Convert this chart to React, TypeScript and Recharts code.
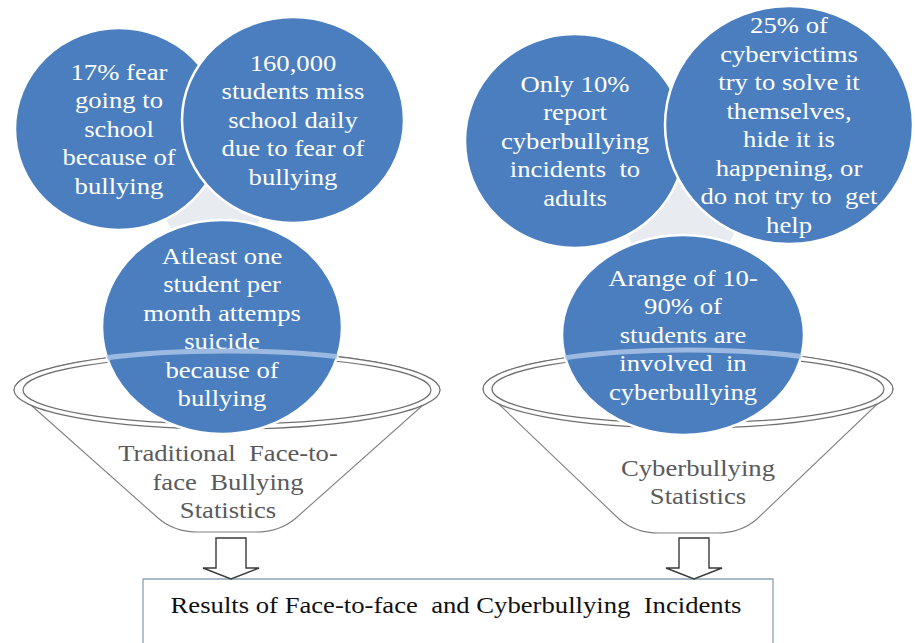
import { ComposedChart, ReferenceArea, Scatter, XAxis, YAxis } from "recharts";

const W = 915;
const H = 643;
const SERIF = "Times New Roman, Times, Liberation Serif, DejaVu Serif, serif";
const BLUE = "#4a7ebf";
const KX = W / 915;
const KY = H / 643;

// statements in the circles (diagram units, origin top-left)
const bubbleText = [
  ["17% fear", "going to", "school", "because of", "bullying"],
  ["160,000", "students miss", "school daily", "due to fear of", "bullying"],
  ["Atleast one", "student per", "month attemps", "suicide", "because of", "bullying"],
  ["Only 10%", "report", "cyberbullying", "incidents  to", "adults"],
  ["25% of", "cybervictims", "try to solve it", "themselves,", "hide it is", "happening, or", "do not try to  get", "help"],
  ["Arange of 10-", "90% of", "students are", "involved  in", "cyberbullying"],
];
const bubbleX = [119, 293, 222, 575, 789, 683];
const bubbleY = [129, 120, 327, 141, 125, 335];
const bubbleRx = [104, 111, 120, 110, 124, 121];
const bubbleRy = [101, 103, 107, 107, 119, 100];
const bubbleGroups = [
  [0, 1, 2],
  [3, 4, 5],
];

// funnels
const funnelLabel = [
  ["Traditional  Face-to-", "face  Bullying", "Statistics"],
  ["Cyberbullying", "Statistics"],
];
const funnelX = [227, 688];
const funnelY = [390, 389];
const funnelRx = [213, 205];
const funnelRy = [39, 39];
const funnelBottom = [532, 533];
const funnelBottomHalf = [55, 55];
const funnelLabelX = [228, 698];
const funnelLabelY = [482, 482];
const funnelBubble = [2, 5];

// arrows down to the result box
const arrowX = [231, 694];
const arrowTop = [538, 538];
const arrowTip = [579, 579];

const resultText = "Results of Face-to-face  and Cyberbullying  Incidents";
const resultBox = { x1: 143, x2: 773, y1: 579, y2: 680 };
const resultTextX = [456];
const resultTextY = [605];

function Label({ x, y, text, fill, size = 23, sx = 1.16 }: any) {
  return (
    <text
      transform={`translate(${x} ${y}) scale(${sx} 1)`}
      textAnchor="middle"
      dominantBaseline="central"
      fill={fill}
      fontSize={size}
      fontFamily={SERIF}
      style={{ whiteSpace: "pre" }}
    >
      {text}
    </text>
  );
}

function Gap(props: any) {
  const g = bubbleGroups[props.payload.i];
  const pts = g.map((b) => `${bubbleX[b] * KX},${bubbleY[b] * KY}`).join(" ");
  return <polygon points={pts} fill="#e8ebf0" />;
}

function Bubble(props: any) {
  const { cx, cy, payload } = props;
  const i = payload.i;
  const lines = bubbleText[i];
  const lh = 28.5;
  const top = cy - ((lines.length - 1) * lh) / 2;
  return (
    <g>
      <ellipse
        cx={cx}
        cy={cy}
        rx={bubbleRx[i] * KX}
        ry={bubbleRy[i] * KY}
        fill={BLUE}
        stroke="#fff"
        strokeWidth={2.5}
      />
      {lines.map((t, j) => (
        <Label key={j} x={cx} y={top + j * lh} text={t} fill="#fff" />
      ))}
    </g>
  );
}

function Funnel(props: any) {
  const { cx, cy, payload } = props;
  const i = payload.i;
  const rx = funnelRx[i] * KX;
  const ry = funnelRy[i] * KY;
  const by = funnelBottom[i] * KY;
  const bw = funnelBottomHalf[i] * KX;
  const body = [
    `M ${cx - rx} ${cy}`,
    `L ${cx - bw - 14} ${by - 14}`,
    `Q ${cx - bw + 2} ${by} ${cx - bw + 26} ${by}`,
    `L ${cx + bw - 26} ${by}`,
    `Q ${cx + bw - 2} ${by} ${cx + bw + 14} ${by - 14}`,
    `L ${cx + rx} ${cy}`,
    `A ${rx} ${ry} 0 0 0 ${cx - rx} ${cy} Z`,
  ].join(" ");
  const lines = funnelLabel[i];
  const lh = 28.5;
  const ly = funnelLabelY[i] * KY - ((lines.length - 1) * lh) / 2;
  return (
    <g>
      <path d={body} fill="#fff" stroke="#808080" strokeWidth={1.1} />
      <ellipse cx={cx} cy={cy} rx={rx} ry={ry} fill="#fff" stroke="#6f6f6f" strokeWidth={1.2} />
      <ellipse cx={cx} cy={cy} rx={rx - 9} ry={ry - 5} fill="none" stroke="#6f6f6f" strokeWidth={1.2} />
      {lines.map((t, j) => (
        <Label key={j} x={funnelLabelX[i] * KX} y={ly + j * lh} text={t} fill="#5a5a5a" />
      ))}
    </g>
  );
}

function Rim(props: any) {
  const { cx, cy, payload } = props;
  const i = payload.i;
  const b = funnelBubble[i];
  const rx = funnelRx[i] * KX;
  const ry = funnelRy[i] * KY;
  const id = `rimclip${i}`;
  return (
    <g>
      <defs>
        <clipPath id={id}>
          <ellipse cx={bubbleX[b] * KX} cy={bubbleY[b] * KY} rx={bubbleRx[b] * KX} ry={bubbleRy[b] * KY} />
        </clipPath>
      </defs>
      <path
        d={`M ${cx - rx} ${cy} A ${rx} ${ry} 0 0 1 ${cx + rx} ${cy}`}
        fill="none"
        stroke="#a9c3e6"
        strokeOpacity={0.85}
        strokeWidth={5}
        clipPath={`url(#${id})`}
      />
    </g>
  );
}

function Arrow(props: any) {
  const { cx, payload } = props;
  const i = payload.i;
  const top = arrowTop[i] * KY;
  const tip = arrowTip[i] * KY;
  const neck = tip - 11;
  const d = [
    `M ${cx - 15} ${top}`,
    `L ${cx + 15} ${top}`,
    `L ${cx + 15} ${neck}`,
    `L ${cx + 28} ${neck}`,
    `L ${cx} ${tip}`,
    `L ${cx - 28} ${neck}`,
    `L ${cx - 15} ${neck}`,
    "Z",
  ].join(" ");
  return <path d={d} fill="#fff" stroke="#3a3a3a" strokeWidth={1.4} />;
}

function ResultText(props: any) {
  return <Label x={props.cx} y={props.cy} text={resultText} fill="#111" />;
}

const gapData = bubbleGroups.map((g, i) => ({ x: bubbleX[g[0]], y: bubbleY[g[0]], i }));
const bubbleData = bubbleX.map((x, i) => ({ x, y: bubbleY[i], i }));
const funnelData = funnelX.map((x, i) => ({ x, y: funnelY[i], i }));
const arrowData = arrowX.map((x, i) => ({ x, y: arrowTop[i], i }));
const textData = resultTextX.map((x, i) => ({ x, y: resultTextY[i], i }));

export default function App() {
  return (
    <div style={{ position: "absolute", left: 0, top: 0, background: "#fff", fontFamily: SERIF }}>
      <ComposedChart width={W} height={H} margin={{ top: 0, right: 0, bottom: 0, left: 0 }}>
        <XAxis type="number" dataKey="x" domain={[0, 915]} hide allowDataOverflow />
        <YAxis type="number" dataKey="y" domain={[0, 643]} reversed hide allowDataOverflow />
        <ReferenceArea
          x1={resultBox.x1}
          x2={resultBox.x2}
          y1={resultBox.y1}
          y2={resultBox.y2}
          ifOverflow="visible"
          fill="#fff"
          fillOpacity={1}
          stroke="#8aa2b8"
          strokeWidth={1.3}
        />
        <Scatter data={funnelData} shape={Funnel} isAnimationActive={false} />
        <Scatter data={gapData} shape={Gap} isAnimationActive={false} />
        <Scatter data={bubbleData} shape={Bubble} isAnimationActive={false} />
        <Scatter data={funnelData} shape={Rim} isAnimationActive={false} />
        <Scatter data={arrowData} shape={Arrow} isAnimationActive={false} />
        <Scatter data={textData} shape={ResultText} isAnimationActive={false} />
      </ComposedChart>
    </div>
  );
}
